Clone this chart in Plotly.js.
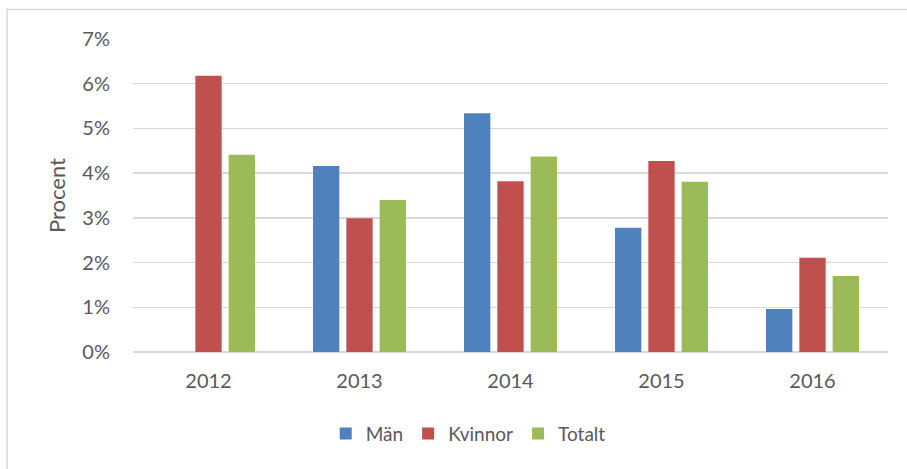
<!DOCTYPE html>
<html>
<head>
<meta charset="utf-8">
<script src="https://cdn.plot.ly/plotly-3.0.1.min.js"></script>
<style>html,body{margin:0;padding:0;background:#fff;}#chart{width:907px;height:469px;}</style>
</head>
<body>
<div id="chart"></div>
<script>
var years = ['2012', '2013', '2014', '2015', '2016'];
var man = [null, 0.0416, 0.0534, 0.0278, 0.0096];
var kvinnor = [0.0618, 0.0299, 0.0382, 0.0427, 0.0211];
var totalt = [0.0441, 0.0340, 0.0437, 0.0381, 0.0170];
var seriesNames = ['Män', 'Kvinnor', 'Totalt'];
var colors = ['#4F81BD', '#C0504D', '#9BBB59'];
var yTicks = [0, 0.01, 0.02, 0.03, 0.04, 0.05, 0.06, 0.07];
var yTickText = ['0%', '1%', '2%', '3%', '4%', '5%', '6%', '7%'];

var font = 'Lato, "Open Sans", sans-serif';
var txt = '#595959';
var vals = [man, kvinnor, totalt];
var data = vals.map(function (v, i) {
  return {
    type: 'bar', x: years, y: v, name: seriesNames[i],
    marker: {color: colors[i], line: {width: 0}},
    hoverinfo: 'x+y+name'
  };
});

var layout = {
  width: 907, height: 469,
  margin: {l: 133, r: 19, t: 39, b: 117},
  paper_bgcolor: '#fff', plot_bgcolor: '#fff',
  barmode: 'group', bargap: 0.338, bargroupgap: 0.21,
  font: {family: font, color: txt, size: 20},
  xaxis: {
    type: 'category', showgrid: false, zeroline: false, showline: false,
    ticks: '', tickfont: {size: 20, color: txt}, ticklabelstandoff: 15
  },
  yaxis: {
    range: [0, 0.07], tickvals: yTicks, ticktext: yTickText,
    showgrid: true, gridcolor: '#d9d9d9', gridwidth: 1.5,
    zeroline: true, zerolinecolor: '#d9d9d9', zerolinewidth: 1.5,
    showline: false, ticks: '', tickfont: {size: 20, color: txt},
    ticklabelstandoff: 22,
    title: {text: 'Procent', font: {size: 22, color: txt}, standoff: 10}
  },
  showlegend: true,
  legend: {
    orientation: 'h', x: 0.444, xanchor: 'center', y: -0.2, yanchor: 'top',
    font: {size: 19, color: txt}, itemwidth: 30, traceorder: 'normal'
  },
  shapes: [{
    type: 'rect', xref: 'paper', yref: 'paper',
    x0: -0.1669, x1: 1.1, y0: -0.5, y1: 1.0943,
    line: {color: '#d9d9d9', width: 1.5}, fillcolor: 'rgba(0,0,0,0)', layer: 'below'
  }]
};

Plotly.newPlot('chart', data, layout, {displayModeBar: false, staticPlot: true});
</script>
</body>
</html>
